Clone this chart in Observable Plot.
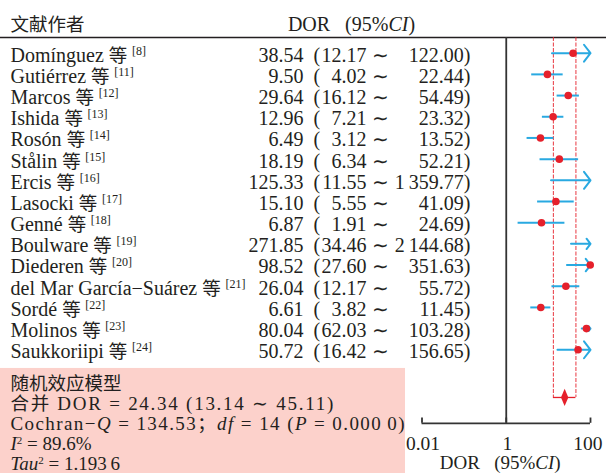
<!DOCTYPE html>
<html>
<head>
<meta charset="utf-8">
<script src="https://cdn.jsdelivr.net/npm/d3@7"></script>
<script src="https://cdn.jsdelivr.net/npm/@observablehq/plot@0.6"></script>
<style>
  html, body { margin: 0; padding: 0; background: #fff; }
  #chart svg { display: block; }
</style>
</head>
<body>
<div id="chart"></div>
<script>
// ---------- data ----------
const authors = ["Domínguez", "Gutiérrez", "Marcos", "Ishida", "Rosón", "Stålin", "Ercis", "Lasocki",
  "Genné", "Boulware", "Diederen", "del Mar García−Suárez", "Sordé", "Molinos", "Saukkoriipi"];
const refs = [8, 11, 12, 13, 14, 15, 16, 17, 18, 19, 20, 21, 22, 23, 24];
const dor = [38.54, 9.50, 29.64, 12.96, 6.49, 18.19, 125.33, 15.10, 6.87, 271.85, 98.52, 26.04, 6.61, 80.04, 50.72];
const lower = [12.17, 4.02, 16.12, 7.21, 3.12, 6.34, 11.55, 5.55, 1.91, 34.46, 27.60, 12.17, 3.82, 62.03, 16.42];
const upper = [122.00, 22.44, 54.49, 23.32, 13.52, 52.21, 1359.77, 41.09, 24.69, 2144.68, 351.63, 55.72, 11.45, 103.28, 156.65];
const pooledDor = 24.34, pooledLower = 13.14, pooledUpper = 45.11;
const cochranQ = "134.53", dfValue = 14, pValue = "0.000\u20090", i2Value = "89.6", tau2Value = "1.193\u20096";
const xTicks = [0.01, 1, 100];
const tickLabels = ["0.01", "1", "100"];

// ---------- layout (row units on the y scale) ----------
const L = {
  headerY: -1.45, headerRule: -0.74, pinkTop: 14.88,
  summaryY0: 15.52, summaryStep: 0.944,
  pooledY: 16.25, axisY: 17.47, tickLabelY: 18.33, axisTitleY: 19.26
};
const summaryFit = [null, 323, 394, null, null]; // stretched line widths (px), as in the justified original
const RED = "#e5202b", BLUE = "#29a9e1", INK = "#231f20", PINK = "#fcd1cb";
const xMin = xTicks[0], xMax = xTicks[xTicks.length - 1];

const fmt = v => {
  const [int, dec] = v.toFixed(2).split(".");
  return int.replace(/\B(?=(\d{3})+(?!\d))/g, "\u2009") + "." + dec;
};

const rows = authors.map((a, i) => ({i, author: a, ref: refs[i], dor: dor[i], lower: lower[i], upper: upper[i]}));
const pooled = [{dor: pooledDor, lower: pooledLower, upper: pooledUpper}];

const summary = [
  "随机效应模型",
  `合并 DOR = ${fmt(pooledDor)} (${fmt(pooledLower)} ∼ ${fmt(pooledUpper)})`,
  `Cochran−*Q* = ${cochranQ}；*df* = ${dfValue} (*P* = ${pValue})`,
  `*I*^2^ = ${i2Value}%`,
  `*Tau*^2^ = ${tau2Value}`
].map((t, k) => ({t, k, y: L.summaryY0 + k * L.summaryStep}));

const tallDiamond = {
  draw(ctx) {
    const w = 3.7, h = 8.6;
    ctx.moveTo(0, -h); ctx.lineTo(w, 0); ctx.lineTo(0, h); ctx.lineTo(-w, 0); ctx.closePath();
  }
};

const pinkBox = (index, scales, values, dims) =>
  d3.create("svg:rect")
    .attr("x", 0).attr("y", scales.y(L.pinkTop))
    .attr("width", 405).attr("height", dims.height - scales.y(L.pinkTop))
    .attr("fill", PINK).node();

const textOpts = {frameAnchor: "left", dy: 2};

const svg = Plot.plot({
  width: 606, height: 473,
  marginTop: 0, marginRight: 0, marginBottom: 0, marginLeft: 0,
  x: {type: "log", domain: [xMin, xMax], range: [421.5, 590], axis: null},
  y: {type: "linear", domain: [0, 14], range: [52.7, 349.3], axis: null},
  style: {fontFamily: "'Liberation Serif', 'Noto Sans CJK SC', serif", fontSize: "20px", color: INK, background: "#fff", overflow: "visible"},
  marks: [
    pinkBox,
    // header
    Plot.text(["文献作者"], {...textOpts, y: () => L.headerY, text: d => d, dx: 10, textAnchor: "start"}),
    Plot.text(["DOR\u2002 (95%*CI*)"], {...textOpts, y: () => L.headerY, text: d => d, dx: 351, textAnchor: "middle"}),
    Plot.ruleY([L.headerRule], {stroke: INK, strokeWidth: 1.6}),
    // table
    Plot.text(rows, {...textOpts, y: "i", text: d => `${d.author} 等 ^[${d.ref}]^`, dx: 10, textAnchor: "start"}),
    Plot.text(rows, {...textOpts, y: "i", text: d => fmt(d.dor), dx: 303, textAnchor: "end"}),
    Plot.text(rows, {...textOpts, y: "i", text: () => "(", dx: 313, textAnchor: "start"}),
    Plot.text(rows, {...textOpts, y: "i", text: d => fmt(d.lower), dx: 366, textAnchor: "end"}),
    Plot.text(rows, {...textOpts, y: "i", text: () => "∼", dx: 379.5, textAnchor: "middle"}),
    Plot.text(rows, {...textOpts, y: "i", text: d => fmt(d.upper) + ")", dx: 470, textAnchor: "end"}),
    // summary
    Plot.text(summary, {...textOpts, y: "y", text: d => `#${d.k}#` + d.t, dx: 10, textAnchor: "start", fontSize: 19}),
    // reference lines
    Plot.ruleX([1], {y1: L.headerRule, y2: L.axisY, stroke: "#333", strokeWidth: 1.8}),
    Plot.ruleX([pooledLower, pooledUpper], {y1: L.headerRule, y2: L.pooledY, stroke: RED, strokeWidth: 1, strokeDasharray: "4,1.5", strokeOpacity: 0.9}),
    // CIs
    Plot.ruleY(rows.filter(d => d.upper <= xMax), {y: "i", x1: "lower", x2: "upper", stroke: BLUE, strokeWidth: 2}),
    Plot.arrow(rows.filter(d => d.upper > xMax), {x1: "lower", x2: () => xMax, y1: "i", y2: "i", stroke: BLUE, strokeWidth: 2, headAngle: 105, headLength: 8, bend: 0}),
    Plot.dot(rows.filter(d => d.dor <= xMax), {x: "dor", y: "i", r: 3.8, fill: RED}),
    // pooled
    Plot.ruleY(pooled, {y: () => L.pooledY, x1: "lower", x2: "upper", stroke: RED, strokeWidth: 1.3}),
    Plot.dot(pooled, {x: "dor", y: () => L.pooledY, symbol: tallDiamond, fill: RED, stroke: "none"}),
    // axis
    Plot.ruleY([L.axisY], {x1: xMin, x2: xMax, stroke: "#333", strokeWidth: 1.8}),
    Plot.ruleX(xTicks, {y1: L.axisY, y2: L.axisY - 0.25, stroke: "#333", strokeWidth: 1.8}),
    Plot.text(xTicks.slice(0, -1), {x: d => d, y: () => L.tickLabelY, text: (d, i) => tickLabels[i], dy: 2, dx: 1, textAnchor: "middle", fontSize: 19.5}),
    Plot.text(xTicks.slice(-1), {x: d => d, y: () => L.tickLabelY, text: () => tickLabels[tickLabels.length - 1], dy: 2, dx: 12, textAnchor: "end", fontSize: 19.5}),
    Plot.text(["DOR\u2002 (95%*CI*)"], {x: () => 1, y: () => L.axisTitleY, text: d => d, dx: -6, dy: 2, textAnchor: "middle", fontSize: 19})
  ]
});

// rich text: *italic*, ^superscript^, smaller CJK glyphs; #k# tags summary lines
const isCJK = ch => /[\u3000-\u9fff\uff00-\uffef]/.test(ch);
function richify() {
  const el = this;
  let s = el.textContent;
  const tag = s.match(/^#(\d+)#/);
  if (tag) { el.dataset.line = tag[1]; s = s.slice(tag[0].length); el.textContent = s; }
  if (!/[\*\^\u3000-\u9fff\uff00-\uffef]/.test(s)) return;
  const supSize = tag ? 11 : 12, supShift = tag ? 6 : 7;
  const segs = [];
  let it = false, sup = false, buf = "", cjk = null;
  const flush = () => { if (buf) segs.push({t: buf, it, sup, cjk}); buf = ""; };
  for (const ch of s) {
    if (ch === "*") { flush(); it = !it; continue; }
    if (ch === "^") { flush(); sup = !sup; continue; }
    const c = ch === " " ? cjk : isCJK(ch);
    if (c !== cjk) { flush(); cjk = c; }
    buf += ch;
  }
  flush();
  el.textContent = "";
  let shifted = false;
  for (const g of segs) {
    const ts = document.createElementNS("http://www.w3.org/2000/svg", "tspan");
    ts.textContent = g.t;
    if (g.it) ts.setAttribute("font-style", "italic");
    if (g.sup) {
      ts.setAttribute("font-size", supSize + "px");
      if (!shifted) { ts.setAttribute("dy", -supShift); shifted = true; }
    } else {
      if (shifted) { ts.setAttribute("dy", supShift); shifted = false; }
      if (g.cjk) ts.setAttribute("font-size", "18.5px");
    }
    el.appendChild(ts);
  }
}
d3.select(svg).selectAll("text").each(richify);

document.getElementById("chart").appendChild(svg);

// justify the long summary lines to the widths of the original
d3.select(svg).selectAll("text").each(function() {
  const k = this.dataset.line;
  if (k === undefined || !summaryFit[+k]) return;
  const natural = this.getComputedTextLength();
  const n = [...this.textContent].length;
  const extra = (summaryFit[+k] - natural) / Math.max(1, n - 1);
  if (extra > 0) this.setAttribute("letter-spacing", extra.toFixed(2));
});
</script>
</body>
</html>
